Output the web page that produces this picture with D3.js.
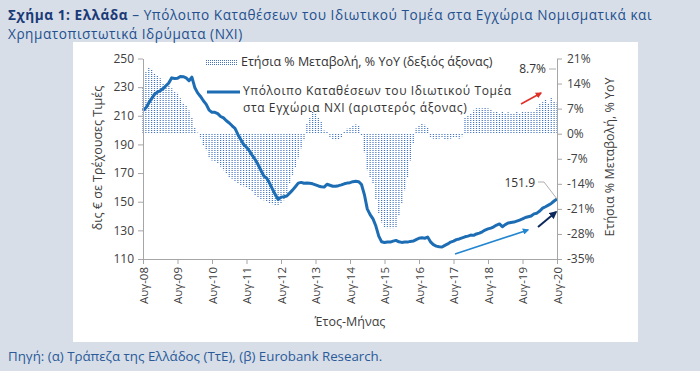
<!DOCTYPE html>
<html><head><meta charset="utf-8">
<script src="https://cdn.jsdelivr.net/npm/d3@7"></script>
<style>
html,body{margin:0;padding:0;background:#d7dee7;}
svg{display:block;font-family:"Open Sans",sans-serif;}
</style></head><body>
<svg id="c" width="700" height="371"></svg>
<script>
// Monthly, Aug-08 .. Aug-20
const deposits = [
 213.8,215.5,219,222,225,226.5,227.5,229,231,233,236.5,236,
 236.2,237.5,237.3,236.5,234.5,237,229.8,226,223.5,220.5,218,214,
 212.4,212.4,211.5,209.5,208.5,206.5,205,203,201.2,197,193.5,190,
 188,185.5,182.4,179.5,176,172,168,166.5,163,159,155,151.5,
 153.2,153.5,154,156,158.1,160.5,163,163.5,162.9,163,162.9,162.5,
 161.8,161,160.5,160.2,162.2,161.5,160.8,160.8,161.2,161.8,162.5,163,
 163.3,164,164.3,164,162,155,145,141,138,133,126,122,
 121.5,121.8,121.8,122.5,123,122,121.6,121.8,121.8,122.3,122.5,123.5,
 124.5,124.8,124.5,125.3,122,120,119,118.5,118.4,119.5,120.5,121.8,
 122.5,123.5,124,124.8,125.5,126,126.7,126.5,127.5,128.1,129,130.2,
 131,131.6,132.5,133.7,134.5,132.5,134,135.1,135.5,135.8,136.5,137.2,
 138,139,139.5,140,141.5,142,143.5,145.5,146.5,147.6,148.8,150.5,151.9
];
const yoy = [
 13.0,17.2,18.6,18.0,16.9,16.3,15.5,14.1,13.8,13.5,12.7,11.6,
 11.4,9.9,8.6,7.9,6.5,4.4,1.8,0.3,-1.3,-3.2,-4.6,-6.7,
 -7.5,-7.8,-8.3,-9.2,-10.2,-11.2,-12.2,-12.6,-13.2,-13.8,-14.4,-14.7,
 -14.9,-15.5,-16.3,-17.2,-17.8,-18.4,-18.6,-18.9,-19.5,-19.7,-20.0,-20.0,
 -19.5,-18.6,-16.6,-13.9,-11.5,-9.4,-6.9,-4.1,-1.8,2.9,4.6,6.3,
 5.7,4.6,3.4,0.9,0.6,-0.9,-1.7,-1.8,-1.6,-1.1,0.7,1.4,
 1.7,2.3,2.6,2.3,-0.6,-5.2,-10.2,-12.1,-13.8,-18.4,-22.3,-24.8,
 -26.2,-26.4,-26.4,-26.4,-26.2,-23.0,-19.5,-15.8,-12.2,-7.5,-2.9,1.5,
 2.3,2.9,2.5,1.7,-0.9,-1.4,-1.7,-1.4,-1.1,-1.6,-1.8,-1.4,
 -1.1,-0.9,-1.4,-0.7,4.4,5.2,5.7,6.5,7.1,7.1,7.1,7.2,
 7.1,6.9,6.0,6.2,5.7,6.2,5.7,6.0,5.7,5.7,6.2,5.7,
 6.2,6.0,6.2,6.0,6.3,7.1,8.5,8.8,9.4,8.5,10.0,9.1,8.7
];
const xTickLabels = ["Αυγ-08","Αυγ-09","Αυγ-10","Αυγ-11","Αυγ-12","Αυγ-13","Αυγ-14","Αυγ-15","Αυγ-16","Αυγ-17","Αυγ-18","Αυγ-19","Αυγ-20"];
const leftTicks = [110,130,150,170,190,210,230,250];
const rightTicks = [-35,-28,-21,-14,-7,0,7,14,21];
const lastLabel = "151.9";
const yoyLabel = "8.7%";

const svg = d3.select("#c");
const defs = svg.append("defs");
const barBlue = "#4475bd";
const pat = defs.append("pattern").attr("id","stripe").attr("patternUnits","userSpaceOnUse")
  .attr("width",4).attr("height",2);
pat.append("rect").attr("x",0).attr("y",0).attr("width",4).attr("height",1).attr("fill",barBlue);
const pat2 = defs.append("pattern").attr("id","dots").attr("patternUnits","userSpaceOnUse")
  .attr("width",2).attr("height",2);
pat2.append("rect").attr("x",0).attr("y",0).attr("width",1).attr("height",1).attr("fill",barBlue);
const mk = (id,col)=>{
  defs.append("marker").attr("id",id).attr("viewBox","0 0 10 10").attr("refX",8).attr("refY",5)
   .attr("markerWidth",4).attr("markerHeight",4).attr("orient","auto")
   .append("path").attr("d","M0,0L10,5L0,10z").attr("fill",col);
};
mk("aLight","#2386d0"); mk("aDark","#0e2a5c"); mk("aRed","#e0302a");

// white panel
svg.append("rect").attr("x",73).attr("y",42).attr("width",565).attr("height",300).attr("fill","#fff");

// title
const t = svg.append("text").attr("x",8).attr("y",20).style("font-size","13.6px").style("letter-spacing","0.55px");
t.append("tspan").attr("fill","#1b3a78").style("font-weight","bold").text("Σχήμα 1: Ελλάδα");
t.append("tspan").attr("fill","#24508f").text(" – Υπόλοιπο Καταθέσεων του Ιδιωτικού Τομέα στα Εγχώρια Νομισματικά και");
svg.append("text").attr("x",8).attr("y",39).style("font-size","13.6px").style("letter-spacing","0.55px").attr("fill","#24508f")
  .text("Χρηματοπιστωτικά Ιδρύματα (ΝΧΙ)");
svg.append("text").attr("x",8).attr("y",361).style("font-size","13.3px").attr("fill","#2a5a9a")
  .text("Πηγή: (α) Τράπεζα της Ελλάδος (ΤτΕ), (β) Eurobank Research.");

const x = d3.scaleLinear().domain([0,144]).range([143,557]);
const yL = d3.scaleLinear().domain([110,250]).range([259,58.5]);
const yR = d3.scaleLinear().domain([-35,21]).range([259,58.5]);

// bars
svg.append("g").selectAll("rect").data(yoy).join("rect")
  .attr("x",(d,i)=>x(i)-0.6).attr("width",1.2)
  .attr("y",d=>Math.min(yR(d),yR(0))).attr("height",d=>Math.abs(yR(d)-yR(0)))
  .attr("fill","url(#stripe)");

// line
svg.append("path").datum(deposits)
  .attr("d",d3.line().x((d,i)=>x(i)).y(d=>yL(d)))
  .attr("fill","none").attr("stroke","#1d6db4").attr("stroke-width",3).attr("stroke-linejoin","round");

const tc = "#404040", ac="#a6a6a6";
function style(g){
  g.select(".domain").attr("stroke",ac);
  g.selectAll(".tick line").attr("stroke",ac);
  g.selectAll(".tick text").attr("fill",tc).style("font-size","12px").style("font-family","Open Sans");
}
svg.append("g").attr("transform","translate(143,0)")
  .call(d3.axisLeft(yL).tickValues(leftTicks).tickSize(5).tickSizeOuter(0).tickPadding(4)).call(style);
svg.append("g").attr("transform","translate(557,0)")
  .call(d3.axisRight(yR).tickValues(rightTicks).tickSize(5).tickSizeOuter(0).tickPadding(5).tickFormat(d=>d+"%")).call(style);
const gx = svg.append("g").attr("transform","translate(0,259)")
  .call(d3.axisBottom(x).tickValues(d3.range(0,145,12)).tickSize(5).tickSizeOuter(0).tickFormat((d,i)=>xTickLabels[i])).call(style);
gx.selectAll(".tick text").attr("transform","rotate(-90)").attr("text-anchor","end")
  .attr("x",-8).attr("y",0).attr("dy","0.35em").style("font-size","11.5px");

// axis titles
svg.append("text").attr("transform","translate(102,158) rotate(-90)").attr("text-anchor","middle")
  .attr("fill",tc).style("font-size","12.5px").text("δις € σε Τρέχουσες Τιμές");
svg.append("text").attr("transform","translate(614,157) rotate(-90)").attr("text-anchor","middle")
  .attr("fill",tc).style("font-size","12.5px").text("Ετήσια % Μεταβολή, % YoY");
svg.append("text").attr("x",350).attr("y",326).attr("text-anchor","middle")
  .attr("fill",tc).style("font-size","12.5px").text("Έτος-Μήνας");

// legend
svg.append("rect").attr("x",205).attr("y",59).attr("width",33).attr("height",7).attr("fill","url(#dots)");
svg.append("text").attr("x",241).attr("y",66).attr("fill","#333").style("font-size","12.5px")
  .text("Ετήσια % Μεταβολή, % YoY (δεξιός άξονας)");
svg.append("line").attr("x1",207).attr("x2",240).attr("y1",92).attr("y2",92)
  .attr("stroke","#1d6db4").attr("stroke-width",3);
svg.append("text").attr("x",243).attr("y",95).attr("fill","#333").style("font-size","12px")
  .style("letter-spacing","0.6px").text("Υπόλοιπο Καταθέσεων του Ιδιωτικού Τομέα");
svg.append("text").attr("x",243).attr("y",111.5).attr("fill","#333").style("font-size","12px")
  .style("letter-spacing","0.6px").text("στα Εγχώρια ΝΧΙ (αριστερός άξονας)");

// annotations
const lastI = deposits.length-1;
svg.append("text").attr("x",535).attr("y",187).attr("text-anchor","end").attr("fill","#333")
  .style("font-size","12px").text(lastLabel);
svg.append("polyline").attr("points",[[538,182],[544,182],[x(lastI),yL(deposits[lastI])]].join(" "))
  .attr("fill","none").attr("stroke","#999").attr("stroke-width",0.8);
svg.append("text").attr("x",546).attr("y",73).attr("text-anchor","end").attr("fill","#333")
  .style("font-size","12px").text(yoyLabel);
svg.append("line").attr("x1",549).attr("x2",556).attr("y1",69).attr("y2",69).attr("stroke","#999").attr("stroke-width",0.8);

svg.append("line").attr("x1",455).attr("y1",254).attr("x2",528).attr("y2",230)
  .attr("stroke","#2386d0").attr("stroke-width",1.6).attr("marker-end","url(#aLight)");
svg.append("line").attr("x1",538).attr("y1",227).attr("x2",556).attr("y2",212)
  .attr("stroke","#0e2a5c").attr("stroke-width",2).attr("marker-end","url(#aDark)");
svg.append("line").attr("x1",521).attr("y1",104).attr("x2",541).attr("y2",93)
  .attr("stroke","#e0302a").attr("stroke-width",1.6).attr("marker-end","url(#aRed)");
</script>
</body></html>
